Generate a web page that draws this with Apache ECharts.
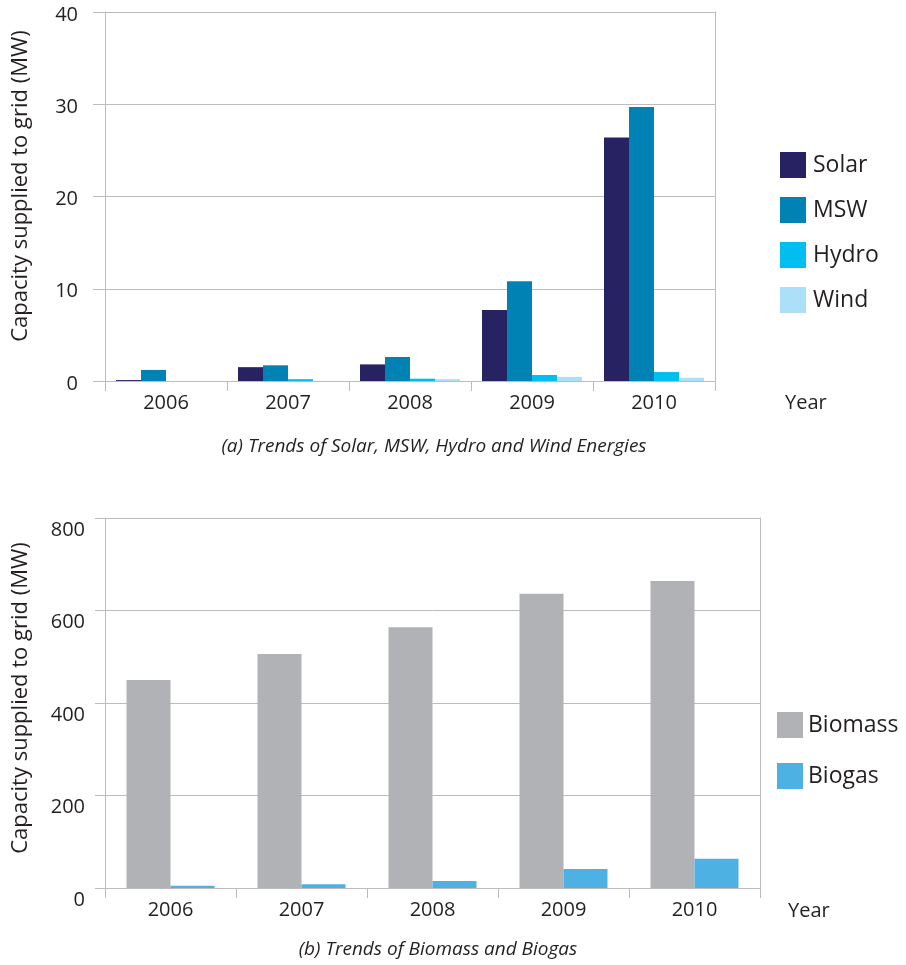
<!DOCTYPE html>
<html>
<head>
<meta charset="utf-8">
<script src="https://cdn.jsdelivr.net/npm/echarts@6/dist/echarts.min.js"></script>
<style>
  html, body { margin: 0; padding: 0; background: #fff; }
  #chart { width: 906px; height: 965px; }
</style>
</head>
<body>
<div id="chart"></div>
<script>
// ---- data ----
const years = ['2006', '2007', '2008', '2009', '2010'];
const solar = [0.1, 1.5, 1.8, 7.7, 26.4];
const msw   = [1.2, 1.7, 2.6, 10.8, 29.7];
const hydro = [0, 0.2, 0.25, 0.65, 0.97];
const wind  = [0, 0, 0.2, 0.45, 0.35];
const biomass = [450, 506, 564, 636, 664];
const biogas  = [5, 8, 15, 41, 63];
const topTicks = { min: 0, max: 40, interval: 10 };
const botTicks = { min: 0, max: 800, interval: 200 };
const yAxisTitle = 'Capacity supplied to grid (MW)';
const xAxisTitle = 'Year';
const titleA = '(a) Trends of Solar, MSW, Hydro and Wind Energies';
const titleB = '(b) Trends of Biomass and Biogas';

// ---- styling ----
const FONT = 'Open Sans';
const TXT = '#231f20';
const LINE = '#bcbcbc';
const colors = {
  Solar: '#272262', MSW: '#0082b4', Hydro: '#00bff0', Wind: '#abe0f8',
  Biomass: '#b1b2b5', Biogas: '#4db1e3'
};

const chart = echarts.init(document.getElementById('chart'), null, { renderer: 'canvas' });

function xAx(gridIndex) {
  return {
    type: 'category', gridIndex, data: years,
    axisLine: { show: true, lineStyle: { color: LINE, width: 1 } },
    axisTick: { show: true, length: 10, lineStyle: { color: LINE } },
    axisLabel: { fontFamily: FONT, fontSize: 20, color: TXT, margin: 12 },
    splitLine: { show: false }
  };
}
function yAx(gridIndex, t, tickLen, margin, pad) {
  return {
    type: 'value', gridIndex, min: t.min, max: t.max, interval: t.interval,
    axisLine: { show: true, lineStyle: { color: LINE, width: 1 } },
    axisTick: { show: true, length: tickLen, lineStyle: { color: LINE } },
    axisLabel: {
      margin,
      formatter: '{v|{value}}',
      rich: { v: { fontFamily: FONT, fontSize: 20, color: TXT, padding: [pad, 0, 0, 0] } }
    },
    splitLine: { show: true, lineStyle: { color: LINE, width: 1 } }
  };
}
function yRight(gridIndex, t) {
  return {
    type: 'value', gridIndex, position: 'right', min: t.min, max: t.max, interval: t.interval,
    axisLine: { show: true, lineStyle: { color: LINE, width: 1 } },
    axisTick: { show: false }, axisLabel: { show: false }, splitLine: { show: false }
  };
}
function bar(name, data, xi, yi, w) {
  return {
    type: 'bar', name, data, xAxisIndex: xi, yAxisIndex: yi,
    barWidth: w, barGap: '0%',
    itemStyle: { color: colors[name] },
    emphasis: { disabled: true }, animation: false
  };
}
function txt(text, x, y, size, opts) {
  return Object.assign({
    type: 'text', x, y,
    style: Object.assign({ text, fontFamily: FONT, fontSize: size, fill: TXT,
      align: 'left', verticalAlign: 'middle' }, (opts && opts.style) || {})
  }, (opts && opts.el) || {});
}

const option = {
  backgroundColor: '#ffffff',
  animation: false,
  grid: [
    { left: 105, right: 191, top: 12, height: 369, containLabel: false },
    { left: 105, right: 146, top: 518, height: 370, containLabel: false }
  ],
  xAxis: [xAx(0), xAx(1)],
  yAxis: [
    yAx(0, topTicks, 12, 27, 6),
    yAx(1, botTicks, 10, 20, 24),
    yRight(0, topTicks),
    yRight(1, botTicks)
  ],
  legend: [
    {
      orient: 'vertical', left: 775, top: 147,
      itemWidth: 26, itemHeight: 26, itemGap: 19, icon: 'rect',
      data: ['Solar', 'MSW', 'Hydro', 'Wind'],
      textStyle: { fontFamily: FONT, fontSize: 23, color: TXT, padding: [0, 0, 0, 2] },
      selectedMode: false
    },
    {
      orient: 'vertical', left: 772, top: 707,
      itemWidth: 26, itemHeight: 26, itemGap: 25, icon: 'rect',
      data: ['Biomass', 'Biogas'],
      textStyle: { fontFamily: FONT, fontSize: 23, color: TXT, padding: [0, 0, 0, 0] },
      selectedMode: false
    }
  ],
  series: [
    bar('Solar', solar, 0, 0, 25),
    bar('MSW', msw, 0, 0, 25),
    bar('Hydro', hydro, 0, 0, 25),
    bar('Wind', wind, 0, 0, 25),
    bar('Biomass', biomass, 1, 1, 44),
    bar('Biogas', biogas, 1, 1, 44)
  ],
  graphic: [
    txt(xAxisTitle, 785, 403, 20),
    txt(xAxisTitle, 788, 911, 20),
    txt(titleA, 434, 447, 19, { style: { align: 'center', fontStyle: 'italic' } }),
    txt(titleB, 438, 950, 19, { style: { align: 'center', fontStyle: 'italic' } }),
    txt(yAxisTitle, 21, 186, 22, { style: { align: 'center' }, el: { rotation: Math.PI / 2 } }),
    txt(yAxisTitle, 21, 698, 22, { style: { align: 'center' }, el: { rotation: Math.PI / 2 } })
  ]
};
chart.setOption(option);
</script>
</body>
</html>
